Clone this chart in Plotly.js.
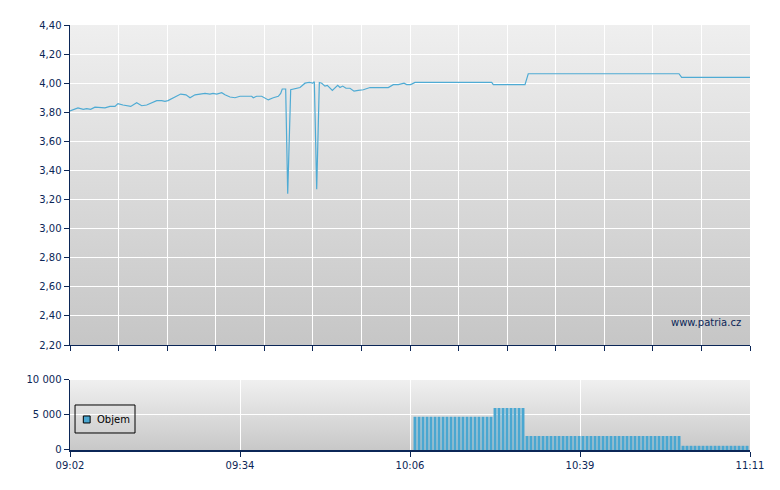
<!DOCTYPE html>
<html>
<head>
<meta charset="utf-8">
<script src="https://cdn.plot.ly/plotly-3.0.1.min.js"></script>
<style>html,body{margin:0;padding:0;background:#fff}#chart{width:780px;height:490px}</style>
</head>
<body>
<div id="chart"></div>
<script>
const tradeDate = "2024-01-01";
const sessionStart = "09:02:00";
const sessionEnd = "11:11:00";

const priceTimes = [
"09:02:00","09:03:31","09:04:31","09:05:10","09:05:55","09:06:44","09:08:38","09:09:35","09:10:32","09:11:06",
"09:12:03","09:13:31","09:14:39","09:15:36","09:16:33","09:17:18","09:18:27","09:19:24","09:20:01","09:20:35",
"09:21:32","09:23:00","09:24:00","09:24:46","09:25:43","09:26:40","09:27:37","09:28:33","09:29:08","09:29:50",
"09:30:47","09:31:24","09:32:21","09:33:18","09:34:15","09:35:46","09:36:28","09:36:46","09:37:25","09:38:22",
"09:38:59","09:39:37","09:40:34","09:41:31","09:41:58","09:42:16","09:42:55","09:43:18","09:43:52","09:44:41",
"09:45:19","09:45:38","09:46:35","09:47:24","09:48:03","09:48:21","09:48:48","09:49:18","09:49:45","09:50:22",
"09:50:49","09:51:46","09:52:47","09:53:13","09:53:44","09:54:21","09:55:07","09:55:53","09:56:41","09:57:38",
"09:58:55","10:02:23","10:03:20","10:04:17","10:05:22","10:05:52","10:06:38","10:07:27","10:22:00","10:22:18",
"10:28:19","10:28:56","10:57:32","10:58:02","11:11:00"
];
const prices = [
3.81,3.83,3.82,3.825,3.82,3.835,3.83,3.84,3.84,3.86,
3.85,3.84,3.865,3.845,3.85,3.86,3.88,3.88,3.875,3.88,
3.90,3.925,3.92,3.90,3.92,3.925,3.93,3.925,3.93,3.925,
3.935,3.92,3.905,3.90,3.91,3.91,3.91,3.90,3.91,3.91,
3.90,3.885,3.90,3.91,3.93,3.96,3.96,3.24,3.955,3.96,
3.965,3.97,4.00,4.005,4.00,4.01,3.27,4.005,4.00,3.98,
3.985,3.95,3.985,3.97,3.98,3.965,3.965,3.945,3.95,3.955,
3.97,3.97,3.99,3.99,4.00,3.99,3.99,4.005,4.005,3.99,
3.99,4.065,4.065,4.04,4.04
];

const volumeTimes = [
"10:07:27","10:08:13","10:08:58","10:09:44","10:10:29","10:11:15","10:12:00","10:12:46","10:13:31","10:14:17",
"10:15:02","10:15:48","10:16:33","10:17:19","10:18:04","10:18:50","10:19:35","10:20:21","10:21:07","10:21:52",
"10:22:38","10:23:23","10:24:09","10:24:54","10:25:40","10:26:25","10:27:11","10:27:56",
"10:28:42","10:29:27","10:30:13","10:30:58","10:31:44","10:32:30","10:33:15","10:34:01","10:34:46","10:35:32",
"10:36:17","10:37:03","10:37:48","10:38:34","10:39:19","10:40:05","10:40:50","10:41:36","10:42:21","10:43:07",
"10:43:52","10:44:38","10:45:24","10:46:09","10:46:55","10:47:40","10:48:26","10:49:11","10:49:57","10:50:42",
"10:51:28","10:52:13","10:52:59","10:53:44","10:54:30","10:55:15","10:56:01","10:56:46","10:57:32",
"10:58:18","10:59:03","10:59:49","11:00:34","11:01:20","11:02:05","11:02:51","11:03:36","11:04:22","11:05:07",
"11:05:53","11:06:38","11:07:24","11:08:09","11:08:55","11:09:40","11:10:26"
];
const volumes = [
4750,4750,4750,4750,4750,4750,4750,4750,4750,4750,
4750,4750,4750,4750,4750,4750,4750,4750,4750,4750,
6000,6000,6000,6000,6000,6000,6000,6000,
2000,2000,2000,2000,2000,2000,2000,2000,2000,2000,
2000,2000,2000,2000,2000,2000,2000,2000,2000,2000,
2000,2000,2000,2000,2000,2000,2000,2000,2000,2000,
2000,2000,2000,2000,2000,2000,2000,2000,2000,
600,600,600,600,600,600,600,600,600,600,
600,600,600,600,600,600,600
];

const referencePrice = 2.51;
const volumeTickTimes = ["09:02:00","09:34:15","10:06:30","10:38:45","11:11:00"];
const volumeTickLabels = ["09:02","09:34","10:06","10:39","11:11"];
const volumeTickValues = [0, 5000, 10000];
const legendLabel = "Objem";
const watermarkText = "www.patria.cz";

const ts = t => tradeDate + " " + t;
const navy = "#0b2657";
const lineBlue = "#4fabd4";
const barBlue = "#4aa7d1";

function gradient(top, bottom) {
  const svg = '<svg xmlns="http://www.w3.org/2000/svg" width="10" height="100" viewBox="0 0 10 100" preserveAspectRatio="none">' +
    '<defs><linearGradient id="g" x1="0" y1="0" x2="0" y2="1">' +
    '<stop offset="0" stop-color="' + top + '"/><stop offset="1" stop-color="' + bottom + '"/>' +
    '</linearGradient></defs><rect x="0" y="0" width="10" height="100" fill="url(#g)"/></svg>';
  return "data:image/svg+xml;charset=utf-8," + encodeURIComponent(svg);
}

const priceTrace = {
  type: "scatter", mode: "lines",
  x: priceTimes.map(ts), y: prices,
  xaxis: "x", yaxis: "y",
  line: {color: lineBlue, width: 1.2},
  hoverinfo: "x+y", showlegend: false
};
const volumeTrace = {
  type: "bar", name: legendLabel,
  x: volumeTimes.map(ts), y: volumes,
  xaxis: "x2", yaxis: "y2",
  marker: {color: barBlue, line: {width: 0}},
  showlegend: false
};

const axisCommon = {
  showline: true, linecolor: navy, linewidth: 1.5,
  ticks: "outside", ticklen: 5, tickcolor: navy, tickwidth: 1,
  showgrid: true, gridcolor: "#ffffff", gridwidth: 1,
  zeroline: false, fixedrange: true,
  tickfont: {family: "DejaVu Sans, Verdana, sans-serif", size: 10, color: navy}
};
const xRange = [ts(sessionStart), ts(sessionEnd)];
const topGridStep = (129 * 60000) / 14;

const layout = {
  width: 780, height: 490,
  margin: {l: 70, r: 30, t: 25, b: 40},
  paper_bgcolor: "#ffffff", plot_bgcolor: "rgba(0,0,0,0)",
  separators: ", ",
  showlegend: false,
  bargap: 0.25,
  font: {family: "DejaVu Sans, Verdana, sans-serif", size: 10, color: navy},
  xaxis: Object.assign({}, axisCommon, {
    type: "date", domain: [0, 1], anchor: "y", range: xRange,
    tickmode: "linear", tick0: ts(sessionStart), dtick: topGridStep,
    showticklabels: false
  }),
  yaxis: Object.assign({}, axisCommon, {
    domain: [0.24706, 1], anchor: "x", range: [2.2, 4.4],
    tickmode: "linear", tick0: 2.2, dtick: 0.2, tickformat: ".2f"
  }),
  xaxis2: Object.assign({}, axisCommon, {
    type: "date", domain: [0, 1], anchor: "y2", range: xRange,
    tickmode: "array", tickvals: volumeTickTimes.map(ts), ticktext: volumeTickLabels
  }),
  yaxis2: Object.assign({}, axisCommon, {
    domain: [0, 0.16471], anchor: "x2", range: [0, 10000],
    tickmode: "array", tickvals: volumeTickValues, tickformat: ",d"
  }),
  images: [
    {source: gradient("#efefef", "#c6c6c6"), xref: "x domain", yref: "y domain",
     x: 0, y: 1, sizex: 1, sizey: 1, xanchor: "left", yanchor: "top", sizing: "stretch", layer: "below"},
    {source: gradient("#f0f0f0", "#c8c8c8"), xref: "x2 domain", yref: "y2 domain",
     x: 0, y: 1, sizex: 1, sizey: 1, xanchor: "left", yanchor: "top", sizing: "stretch", layer: "below"}
  ],
  shapes: [
    {type: "line", xref: "x domain", yref: "y", x0: 0, x1: 1, y0: referencePrice, y1: referencePrice,
     line: {color: "#e8292b", width: 1}, layer: "below"},
    {type: "rect", xref: "x2 domain", yref: "y2 domain", x0: 0.0074, x1: 0.0956, y0: 0.243, y1: 0.643,
     line: {color: "#000000", width: 1}, fillcolor: "rgba(0,0,0,0)"},
    {type: "rect", xref: "x2 domain", yref: "y2 domain", x0: 0.0196, x1: 0.0296, y0: 0.386, y1: 0.486,
     line: {color: "#000000", width: 1}, fillcolor: barBlue}
  ],
  annotations: [
    {text: legendLabel, xref: "x2 domain", yref: "y2 domain", x: 0.0365, y: 0.436,
     xanchor: "left", yanchor: "middle", showarrow: false,
     font: {family: "DejaVu Sans, Verdana, sans-serif", size: 10, color: "#000000"}},
    {text: watermarkText, xref: "x domain", yref: "y domain", x: 0.9897, y: 0.069,
     xanchor: "right", yanchor: "middle", showarrow: false,
     font: {family: "DejaVu Sans, Verdana, sans-serif", size: 10, color: navy}}
  ]
};

Plotly.newPlot("chart", [priceTrace, volumeTrace], layout, {displayModeBar: false, staticPlot: true});
</script>
</body>
</html>
